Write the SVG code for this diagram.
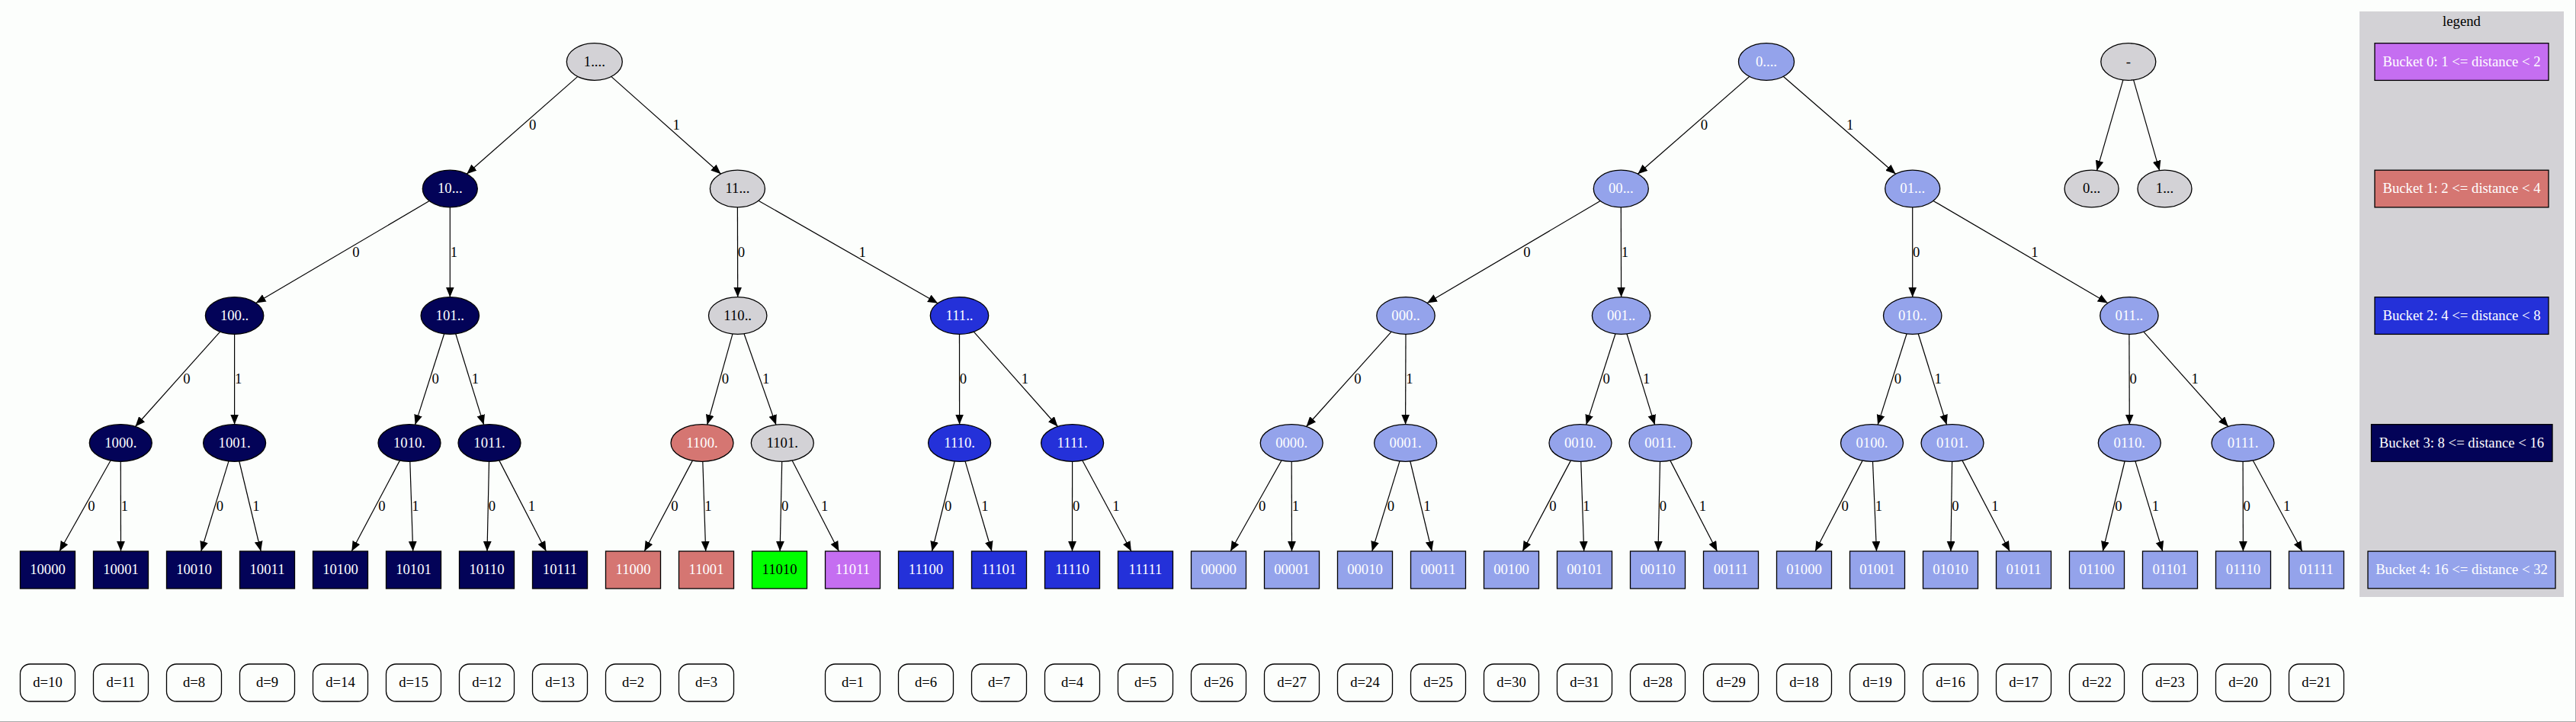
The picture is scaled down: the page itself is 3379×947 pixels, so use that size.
<svg xmlns="http://www.w3.org/2000/svg" width="3379" height="947" viewBox="0 0 3379 947">
<defs>
<marker id="ah" markerUnits="userSpaceOnUse" markerWidth="14" markerHeight="12" refX="13" refY="5.4" orient="auto">
<path d="M0,0 L13,5.4 L0,10.8 z" fill="#000"/>
</marker>
</defs>
<style>
text{font-family:"Liberation Serif","Times New Roman",serif;font-size:18.7px;text-anchor:middle;fill:#fff}
.k{fill:#000}
.s{stroke:#000;stroke-width:1.3}
.g{fill:#d3d2d6}.nv{fill:#030358}.bl{fill:#2431d9}.lb{fill:#94a3eb}.rd{fill:#d57672}.pu{fill:#c56ef1}.gr{fill:#00ff00}
.e{stroke:#000;stroke-width:1.2;fill:none;marker-end:url(#ah)}
.d{fill:none;stroke:#000;stroke-width:1.3}
</style>
<rect x="0" y="0" width="3379" height="947" fill="#fcfefc"/>
<line x1="0" y1="946.5" x2="3379" y2="946.5" stroke="#a8a8a8" stroke-width="1"/>
<line x1="3378.5" y1="0" x2="3378.5" y2="947" stroke="#a8a8a8" stroke-width="1"/>

<g id="legend">
<rect x="3095" y="15" width="268" height="768" class="g"/>
<text x="3229" y="33.5" class="k">legend</text>
<rect x="3115" y="56.7" width="228" height="48.7" class="pu s"/>
<text x="3229" y="86.6">Bucket 0: 1 &lt;= distance &lt; 2</text>
<rect x="3115" y="223.2" width="228" height="48.7" class="rd s"/>
<text x="3229" y="253.1">Bucket 1: 2 &lt;= distance &lt; 4</text>
<rect x="3115" y="389.7" width="228" height="48.7" class="bl s"/>
<text x="3229" y="419.6">Bucket 2: 4 &lt;= distance &lt; 8</text>
<rect x="3110.5" y="556.7" width="237.5" height="48.7" class="nv s"/>
<text x="3229" y="586.6">Bucket 3: 8 &lt;= distance &lt; 16</text>
<rect x="3106" y="723.1" width="246" height="48.7" class="lb s"/>
<text x="3229" y="753.1">Bucket 4: 16 &lt;= distance &lt; 32</text>
</g>

<g id="edges">
<line x1="757.8" y1="100.4" x2="612.2" y2="228.2" class="e"/><text x="698.7" y="170" class="k">0</text>
<line x1="801.7" y1="100.4" x2="945.6" y2="228.2" class="e"/><text x="887.2" y="170" class="k">1</text>
<line x1="2294.9" y1="100.3" x2="2148.3" y2="228.3" class="e"/><text x="2235.4" y="170" class="k">0</text>
<line x1="2339.2" y1="100.3" x2="2486.6" y2="228.3" class="e"/><text x="2426.6" y="170" class="k">1</text>
<line x1="2784.9" y1="104.8" x2="2750.5" y2="223.7" class="e"/>
<line x1="2798.6" y1="104.8" x2="2832.7" y2="223.7" class="e"/>

<line x1="563.2" y1="263.5" x2="335.6" y2="397.5" class="e"/><text x="466.9" y="336.5" class="k">0</text>
<line x1="590.3" y1="271.8" x2="590.3" y2="389.7" class="e"/><text x="595.3" y="336.5" class="k">1</text>
<line x1="967.4" y1="271.8" x2="967.7" y2="389.7" class="e"/><text x="972.5" y="336.5" class="k">0</text>
<line x1="994.9" y1="263.2" x2="1230.1" y2="397.8" class="e"/><text x="1131.2" y="336.5" class="k">1</text>
<line x1="2099.2" y1="263.5" x2="1872.0" y2="397.5" class="e"/><text x="2003.0" y="336.5" class="k">0</text>
<line x1="2126.3" y1="271.8" x2="2126.6" y2="389.7" class="e"/><text x="2131.4" y="336.5" class="k">1</text>
<line x1="2508.7" y1="271.8" x2="2508.7" y2="389.7" class="e"/><text x="2513.7" y="336.5" class="k">0</text>
<line x1="2535.9" y1="263.4" x2="2764.8" y2="397.5" class="e"/><text x="2668.8" y="336.5" class="k">1</text>

<line x1="288.7" y1="435.1" x2="177.5" y2="559.5" class="e"/><text x="244.8" y="503.2" class="k">0</text>
<line x1="307.6" y1="438.3" x2="307.6" y2="556.7" class="e"/><text x="312.6" y="503.2" class="k">1</text>
<line x1="582.7" y1="437.8" x2="544.6" y2="557.1" class="e"/><text x="571.1" y="503.2" class="k">0</text>
<line x1="597.7" y1="437.8" x2="634.6" y2="557.1" class="e"/><text x="623.5" y="503.2" class="k">1</text>
<line x1="961.0" y1="437.9" x2="927.7" y2="557.0" class="e"/><text x="951.5" y="503.2" class="k">0</text>
<line x1="976.0" y1="437.7" x2="1018.0" y2="557.2" class="e"/><text x="1004.7" y="503.2" class="k">1</text>
<line x1="1258.5" y1="438.3" x2="1258.6" y2="556.7" class="e"/><text x="1263.5" y="503.2" class="k">0</text>
<line x1="1277.3" y1="435.2" x2="1387.5" y2="559.5" class="e"/><text x="1344.3" y="503.2" class="k">1</text>
<line x1="1825.1" y1="435.1" x2="1713.5" y2="559.5" class="e"/><text x="1780.9" y="503.2" class="k">0</text>
<line x1="1844.0" y1="438.3" x2="1843.6" y2="556.7" class="e"/><text x="1848.8" y="503.2" class="k">1</text>
<line x1="2119.0" y1="437.8" x2="2080.7" y2="557.1" class="e"/><text x="2107.2" y="503.2" class="k">0</text>
<line x1="2133.9" y1="437.8" x2="2170.6" y2="557.1" class="e"/><text x="2159.6" y="503.2" class="k">1</text>
<line x1="2501.1" y1="437.8" x2="2463.1" y2="557.1" class="e"/><text x="2489.5" y="503.2" class="k">0</text>
<line x1="2516.2" y1="437.8" x2="2553.5" y2="557.1" class="e"/><text x="2542.2" y="503.2" class="k">1</text>
<line x1="2792.9" y1="438.3" x2="2793.3" y2="556.7" class="e"/><text x="2798.1" y="503.2" class="k">0</text>
<line x1="2811.8" y1="435.1" x2="2922.8" y2="559.5" class="e"/><text x="2879.2" y="503.2" class="k">1</text>

<line x1="145.1" y1="604.0" x2="78.1" y2="723" class="e"/><text x="119.8" y="670" class="k">0</text>
<line x1="158.3" y1="605.3" x2="158.5" y2="723" class="e"/><text x="163.4" y="670" class="k">1</text>
<line x1="300.0" y1="604.9" x2="263.8" y2="723" class="e"/><text x="288.5" y="670" class="k">0</text>
<line x1="313.8" y1="605.0" x2="342.2" y2="723" class="e"/><text x="336.0" y="670" class="k">1</text>
<line x1="524.4" y1="604.1" x2="461.3" y2="723" class="e"/><text x="500.9" y="670" class="k">0</text>
<line x1="537.8" y1="605.3" x2="541.7" y2="723" class="e"/><text x="545.0" y="670" class="k">1</text>
<line x1="641.5" y1="605.3" x2="639.0" y2="723" class="e"/><text x="645.4" y="670" class="k">0</text>
<line x1="654.9" y1="604.1" x2="716.4" y2="723" class="e"/><text x="697.5" y="670" class="k">1</text>
<line x1="908.4" y1="604.1" x2="845.3" y2="723" class="e"/><text x="884.9" y="670" class="k">0</text>
<line x1="921.8" y1="605.3" x2="925.7" y2="723" class="e"/><text x="929.0" y="670" class="k">1</text>
<line x1="1025.7" y1="605.3" x2="1023.1" y2="723" class="e"/><text x="1029.6" y="670" class="k">0</text>
<line x1="1039.1" y1="604.1" x2="1100.4" y2="723" class="e"/><text x="1081.6" y="670" class="k">1</text>
<line x1="1252.2" y1="605.0" x2="1222.5" y2="723" class="e"/><text x="1243.6" y="670" class="k">0</text>
<line x1="1266.0" y1="604.9" x2="1300.9" y2="723" class="e"/><text x="1291.9" y="670" class="k">1</text>
<line x1="1406.6" y1="605.3" x2="1406.5" y2="723" class="e"/><text x="1411.6" y="670" class="k">0</text>
<line x1="1419.8" y1="604.0" x2="1483.9" y2="723" class="e"/><text x="1463.9" y="670" class="k">1</text>
<line x1="1681.0" y1="604.0" x2="1614.1" y2="723" class="e"/><text x="1655.7" y="670" class="k">0</text>
<line x1="1694.2" y1="605.3" x2="1694.5" y2="723" class="e"/><text x="1699.3" y="670" class="k">1</text>
<line x1="1836.0" y1="604.9" x2="1799.8" y2="723" class="e"/><text x="1824.5" y="670" class="k">0</text>
<line x1="1849.8" y1="605.0" x2="1878.2" y2="723" class="e"/><text x="1872.0" y="670" class="k">1</text>
<line x1="2060.4" y1="604.1" x2="1997.3" y2="723" class="e"/><text x="2036.9" y="670" class="k">0</text>
<line x1="2073.8" y1="605.3" x2="2077.7" y2="723" class="e"/><text x="2081.0" y="670" class="k">1</text>
<line x1="2177.5" y1="605.3" x2="2175.0" y2="723" class="e"/><text x="2181.4" y="670" class="k">0</text>
<line x1="2190.9" y1="604.1" x2="2252.4" y2="723" class="e"/><text x="2233.5" y="670" class="k">1</text>
<line x1="2443.1" y1="604.1" x2="2381.1" y2="723" class="e"/><text x="2420.1" y="670" class="k">0</text>
<line x1="2456.5" y1="605.3" x2="2461.5" y2="723" class="e"/><text x="2464.3" y="670" class="k">1</text>
<line x1="2560.6" y1="605.3" x2="2558.9" y2="723" class="e"/><text x="2564.9" y="670" class="k">0</text>
<line x1="2574.0" y1="604.1" x2="2636.2" y2="723" class="e"/><text x="2617.0" y="670" class="k">1</text>
<line x1="2787.1" y1="605.0" x2="2758.3" y2="723" class="e"/><text x="2778.9" y="670" class="k">0</text>
<line x1="2800.9" y1="604.9" x2="2836.7" y2="723" class="e"/><text x="2827.3" y="670" class="k">1</text>
<line x1="2942.1" y1="605.3" x2="2942.4" y2="723" class="e"/><text x="2947.2" y="670" class="k">0</text>
<line x1="2955.3" y1="604.0" x2="3019.8" y2="723" class="e"/><text x="2999.7" y="670" class="k">1</text>
</g>

<g id="n_1"><ellipse cx="779.8" cy="81" rx="36.5" ry="24.3" class="g s"/><text x="779.8" y="86.6" class="k">1....</text></g>
<g id="n_0"><ellipse cx="2317" cy="81" rx="36.5" ry="24.3" class="lb s"/><text x="2317" y="86.6">0....</text></g>
<g id="n_root"><ellipse cx="2791.8" cy="81" rx="36" ry="24.3" class="g s"/><text x="2791.8" y="86.6" class="k">-</text></g>

<g id="n_10"><ellipse cx="590.3" cy="247.5" rx="36" ry="24.3" class="nv s"/><text x="590.3" y="253.1">10...</text></g>
<g id="n_11"><ellipse cx="967.4" cy="247.5" rx="36" ry="24.3" class="g s"/><text x="967.4" y="253.1" class="k">11...</text></g>
<g id="n_00"><ellipse cx="2126.3" cy="247.5" rx="36" ry="24.3" class="lb s"/><text x="2126.3" y="253.1">00...</text></g>
<g id="n_01"><ellipse cx="2508.7" cy="247.5" rx="36" ry="24.3" class="lb s"/><text x="2508.7" y="253.1">01...</text></g>
<g id="n_r0"><ellipse cx="2743.6" cy="247.5" rx="35.5" ry="24.3" class="g s"/><text x="2743.6" y="253.1" class="k">0...</text></g>
<g id="n_r1"><ellipse cx="2839.5" cy="247.5" rx="35.5" ry="24.3" class="g s"/><text x="2839.5" y="253.1" class="k">1...</text></g>

<g id="n_100"><ellipse cx="307.6" cy="414" rx="38.2" ry="24.3" class="nv s"/><text x="307.6" y="419.6">100..</text></g>
<g id="n_101"><ellipse cx="590.3" cy="414" rx="38.2" ry="24.3" class="nv s"/><text x="590.3" y="419.6">101..</text></g>
<g id="n_110"><ellipse cx="967.7" cy="414" rx="38.2" ry="24.3" class="g s"/><text x="967.7" y="419.6" class="k">110..</text></g>
<g id="n_111"><ellipse cx="1258.5" cy="414" rx="38.2" ry="24.3" class="bl s"/><text x="1258.5" y="419.6">111..</text></g>
<g id="n_000"><ellipse cx="1844" cy="414" rx="38.2" ry="24.3" class="lb s"/><text x="1844" y="419.6">000..</text></g>
<g id="n_001"><ellipse cx="2126.6" cy="414" rx="38.2" ry="24.3" class="lb s"/><text x="2126.6" y="419.6">001..</text></g>
<g id="n_010"><ellipse cx="2508.7" cy="414" rx="38.2" ry="24.3" class="lb s"/><text x="2508.7" y="419.6">010..</text></g>
<g id="n_011"><ellipse cx="2792.9" cy="414" rx="38.2" ry="24.3" class="lb s"/><text x="2792.9" y="419.6">011..</text></g>

<g id="n_1000"><ellipse cx="158.3" cy="581" rx="41" ry="24.3" class="nv s"/><text x="158.3" y="586.6">1000.</text></g>
<g id="n_1001"><ellipse cx="307.6" cy="581" rx="41" ry="24.3" class="nv s"/><text x="307.6" y="586.6">1001.</text></g>
<g id="n_1010"><ellipse cx="537" cy="581" rx="41" ry="24.3" class="nv s"/><text x="537" y="586.6">1010.</text></g>
<g id="n_1011"><ellipse cx="642" cy="581" rx="41" ry="24.3" class="nv s"/><text x="642" y="586.6">1011.</text></g>
<g id="n_1100"><ellipse cx="921" cy="581" rx="41" ry="24.3" class="rd s"/><text x="921" y="586.6">1100.</text></g>
<g id="n_1101"><ellipse cx="1026.3" cy="581" rx="41" ry="24.3" class="g s"/><text x="1026.3" y="586.6" class="k">1101.</text></g>
<g id="n_1110"><ellipse cx="1258.6" cy="581" rx="41" ry="24.3" class="bl s"/><text x="1258.6" y="586.6">1110.</text></g>
<g id="n_1111"><ellipse cx="1406.6" cy="581" rx="41" ry="24.3" class="bl s"/><text x="1406.6" y="586.6">1111.</text></g>
<g id="n_0000"><ellipse cx="1694.2" cy="581" rx="41" ry="24.3" class="lb s"/><text x="1694.2" y="586.6">0000.</text></g>
<g id="n_0001"><ellipse cx="1843.6" cy="581" rx="41" ry="24.3" class="lb s"/><text x="1843.6" y="586.6">0001.</text></g>
<g id="n_0010"><ellipse cx="2073" cy="581" rx="41" ry="24.3" class="lb s"/><text x="2073" y="586.6">0010.</text></g>
<g id="n_0011"><ellipse cx="2178" cy="581" rx="41" ry="24.3" class="lb s"/><text x="2178" y="586.6">0011.</text></g>
<g id="n_0100"><ellipse cx="2455.5" cy="581" rx="41" ry="24.3" class="lb s"/><text x="2455.5" y="586.6">0100.</text></g>
<g id="n_0101"><ellipse cx="2561" cy="581" rx="41" ry="24.3" class="lb s"/><text x="2561" y="586.6">0101.</text></g>
<g id="n_0110"><ellipse cx="2793.3" cy="581" rx="41" ry="24.3" class="lb s"/><text x="2793.3" y="586.6">0110.</text></g>
<g id="n_0111"><ellipse cx="2942" cy="581" rx="41" ry="24.3" class="lb s"/><text x="2942" y="586.6">0111.</text></g>

<g id="l_10000"><rect x="26.5" y="723" width="72" height="49" class="nv s"/><text x="62.5" y="753">10000</text></g>
<g id="l_10001"><rect x="122.5" y="723" width="72" height="49" class="nv s"/><text x="158.5" y="753">10001</text></g>
<g id="l_10010"><rect x="218.5" y="723" width="72" height="49" class="nv s"/><text x="254.5" y="753">10010</text></g>
<g id="l_10011"><rect x="314.5" y="723" width="72" height="49" class="nv s"/><text x="350.5" y="753">10011</text></g>
<g id="l_10100"><rect x="410.5" y="723" width="72" height="49" class="nv s"/><text x="446.5" y="753">10100</text></g>
<g id="l_10101"><rect x="506.5" y="723" width="72" height="49" class="nv s"/><text x="542.5" y="753">10101</text></g>
<g id="l_10110"><rect x="602.5" y="723" width="72" height="49" class="nv s"/><text x="638.5" y="753">10110</text></g>
<g id="l_10111"><rect x="698.5" y="723" width="72" height="49" class="nv s"/><text x="734.5" y="753">10111</text></g>
<g id="l_11000"><rect x="794.5" y="723" width="72" height="49" class="rd s"/><text x="830.5" y="753">11000</text></g>
<g id="l_11001"><rect x="890.5" y="723" width="72" height="49" class="rd s"/><text x="926.5" y="753">11001</text></g>
<g id="l_11010"><rect x="986.5" y="723" width="72" height="49" class="gr s"/><text x="1022.5" y="753" class="k">11010</text></g>
<g id="l_11011"><rect x="1082.5" y="723" width="72" height="49" class="pu s"/><text x="1118.5" y="753">11011</text></g>
<g id="l_11100"><rect x="1178.5" y="723" width="72" height="49" class="bl s"/><text x="1214.5" y="753">11100</text></g>
<g id="l_11101"><rect x="1274.5" y="723" width="72" height="49" class="bl s"/><text x="1310.5" y="753">11101</text></g>
<g id="l_11110"><rect x="1370.5" y="723" width="72" height="49" class="bl s"/><text x="1406.5" y="753">11110</text></g>
<g id="l_11111"><rect x="1466.5" y="723" width="72" height="49" class="bl s"/><text x="1502.5" y="753">11111</text></g>
<g id="l_00000"><rect x="1562.5" y="723" width="72" height="49" class="lb s"/><text x="1598.5" y="753">00000</text></g>
<g id="l_00001"><rect x="1658.5" y="723" width="72" height="49" class="lb s"/><text x="1694.5" y="753">00001</text></g>
<g id="l_00010"><rect x="1754.5" y="723" width="72" height="49" class="lb s"/><text x="1790.5" y="753">00010</text></g>
<g id="l_00011"><rect x="1850.5" y="723" width="72" height="49" class="lb s"/><text x="1886.5" y="753">00011</text></g>
<g id="l_00100"><rect x="1946.5" y="723" width="72" height="49" class="lb s"/><text x="1982.5" y="753">00100</text></g>
<g id="l_00101"><rect x="2042.5" y="723" width="72" height="49" class="lb s"/><text x="2078.5" y="753">00101</text></g>
<g id="l_00110"><rect x="2138.5" y="723" width="72" height="49" class="lb s"/><text x="2174.5" y="753">00110</text></g>
<g id="l_00111"><rect x="2234.5" y="723" width="72" height="49" class="lb s"/><text x="2270.5" y="753">00111</text></g>
<g id="l_01000"><rect x="2330.5" y="723" width="72" height="49" class="lb s"/><text x="2366.5" y="753">01000</text></g>
<g id="l_01001"><rect x="2426.5" y="723" width="72" height="49" class="lb s"/><text x="2462.5" y="753">01001</text></g>
<g id="l_01010"><rect x="2522.5" y="723" width="72" height="49" class="lb s"/><text x="2558.5" y="753">01010</text></g>
<g id="l_01011"><rect x="2618.5" y="723" width="72" height="49" class="lb s"/><text x="2654.5" y="753">01011</text></g>
<g id="l_01100"><rect x="2714.5" y="723" width="72" height="49" class="lb s"/><text x="2750.5" y="753">01100</text></g>
<g id="l_01101"><rect x="2810.5" y="723" width="72" height="49" class="lb s"/><text x="2846.5" y="753">01101</text></g>
<g id="l_01110"><rect x="2906.5" y="723" width="72" height="49" class="lb s"/><text x="2942.5" y="753">01110</text></g>
<g id="l_01111"><rect x="3002.5" y="723" width="72" height="49" class="lb s"/><text x="3038.5" y="753">01111</text></g>

<g id="d_10000"><rect x="26.5" y="871" width="72" height="49" rx="13" class="d"/><text x="62.5" y="901" class="k">d=10</text></g>
<g id="d_10001"><rect x="122.5" y="871" width="72" height="49" rx="13" class="d"/><text x="158.5" y="901" class="k">d=11</text></g>
<g id="d_10010"><rect x="218.5" y="871" width="72" height="49" rx="13" class="d"/><text x="254.5" y="901" class="k">d=8</text></g>
<g id="d_10011"><rect x="314.5" y="871" width="72" height="49" rx="13" class="d"/><text x="350.5" y="901" class="k">d=9</text></g>
<g id="d_10100"><rect x="410.5" y="871" width="72" height="49" rx="13" class="d"/><text x="446.5" y="901" class="k">d=14</text></g>
<g id="d_10101"><rect x="506.5" y="871" width="72" height="49" rx="13" class="d"/><text x="542.5" y="901" class="k">d=15</text></g>
<g id="d_10110"><rect x="602.5" y="871" width="72" height="49" rx="13" class="d"/><text x="638.5" y="901" class="k">d=12</text></g>
<g id="d_10111"><rect x="698.5" y="871" width="72" height="49" rx="13" class="d"/><text x="734.5" y="901" class="k">d=13</text></g>
<g id="d_11000"><rect x="794.5" y="871" width="72" height="49" rx="13" class="d"/><text x="830.5" y="901" class="k">d=2</text></g>
<g id="d_11001"><rect x="890.5" y="871" width="72" height="49" rx="13" class="d"/><text x="926.5" y="901" class="k">d=3</text></g>
<g id="d_11011"><rect x="1082.5" y="871" width="72" height="49" rx="13" class="d"/><text x="1118.5" y="901" class="k">d=1</text></g>
<g id="d_11100"><rect x="1178.5" y="871" width="72" height="49" rx="13" class="d"/><text x="1214.5" y="901" class="k">d=6</text></g>
<g id="d_11101"><rect x="1274.5" y="871" width="72" height="49" rx="13" class="d"/><text x="1310.5" y="901" class="k">d=7</text></g>
<g id="d_11110"><rect x="1370.5" y="871" width="72" height="49" rx="13" class="d"/><text x="1406.5" y="901" class="k">d=4</text></g>
<g id="d_11111"><rect x="1466.5" y="871" width="72" height="49" rx="13" class="d"/><text x="1502.5" y="901" class="k">d=5</text></g>
<g id="d_00000"><rect x="1562.5" y="871" width="72" height="49" rx="13" class="d"/><text x="1598.5" y="901" class="k">d=26</text></g>
<g id="d_00001"><rect x="1658.5" y="871" width="72" height="49" rx="13" class="d"/><text x="1694.5" y="901" class="k">d=27</text></g>
<g id="d_00010"><rect x="1754.5" y="871" width="72" height="49" rx="13" class="d"/><text x="1790.5" y="901" class="k">d=24</text></g>
<g id="d_00011"><rect x="1850.5" y="871" width="72" height="49" rx="13" class="d"/><text x="1886.5" y="901" class="k">d=25</text></g>
<g id="d_00100"><rect x="1946.5" y="871" width="72" height="49" rx="13" class="d"/><text x="1982.5" y="901" class="k">d=30</text></g>
<g id="d_00101"><rect x="2042.5" y="871" width="72" height="49" rx="13" class="d"/><text x="2078.5" y="901" class="k">d=31</text></g>
<g id="d_00110"><rect x="2138.5" y="871" width="72" height="49" rx="13" class="d"/><text x="2174.5" y="901" class="k">d=28</text></g>
<g id="d_00111"><rect x="2234.5" y="871" width="72" height="49" rx="13" class="d"/><text x="2270.5" y="901" class="k">d=29</text></g>
<g id="d_01000"><rect x="2330.5" y="871" width="72" height="49" rx="13" class="d"/><text x="2366.5" y="901" class="k">d=18</text></g>
<g id="d_01001"><rect x="2426.5" y="871" width="72" height="49" rx="13" class="d"/><text x="2462.5" y="901" class="k">d=19</text></g>
<g id="d_01010"><rect x="2522.5" y="871" width="72" height="49" rx="13" class="d"/><text x="2558.5" y="901" class="k">d=16</text></g>
<g id="d_01011"><rect x="2618.5" y="871" width="72" height="49" rx="13" class="d"/><text x="2654.5" y="901" class="k">d=17</text></g>
<g id="d_01100"><rect x="2714.5" y="871" width="72" height="49" rx="13" class="d"/><text x="2750.5" y="901" class="k">d=22</text></g>
<g id="d_01101"><rect x="2810.5" y="871" width="72" height="49" rx="13" class="d"/><text x="2846.5" y="901" class="k">d=23</text></g>
<g id="d_01110"><rect x="2906.5" y="871" width="72" height="49" rx="13" class="d"/><text x="2942.5" y="901" class="k">d=20</text></g>
<g id="d_01111"><rect x="3002.5" y="871" width="72" height="49" rx="13" class="d"/><text x="3038.5" y="901" class="k">d=21</text></g>
</svg>
